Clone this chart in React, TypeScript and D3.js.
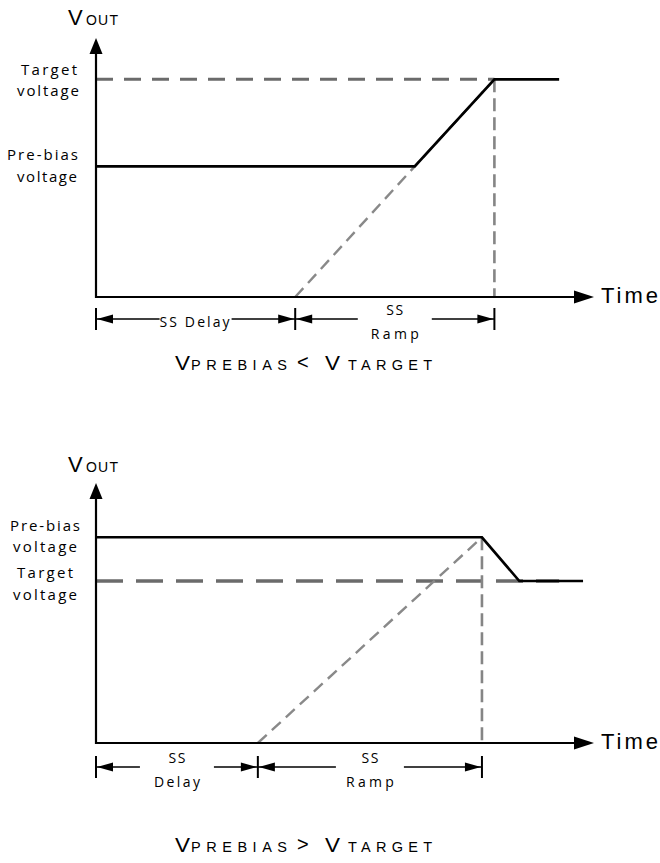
import React from "react";
import * as d3 from "d3";

const W = 660;
const H = 863;
const timeDomain = [0, 10];

// ---- Top panel: V_PREBIAS < V_TARGET ----
const topAxisTopV = 1.19;
const topPrebiasV = 0.6;
const topTargetV = 1.0;
const topOutT = [0, 6.4, 8, 9.3];
const topOutV = [0.6, 0.6, 1.0, 1.0];
const topRampT = [4, 8];
const topRampV = [0, 1.0];
const topTargetT = [0, 8];
const topMarkerT = 8;
const topSpanT = [0, 4, 8];
const topSpanLabels = [["SS Delay"], ["SS", "Ramp"]];
const topRelation = "<";

// ---- Bottom panel: V_PREBIAS > V_TARGET ----
const botAxisTopV = 1.605;
const botPrebiasV = 1.27;
const botTargetV = 1.0;
const botOutT = [0, 7.75, 8.5, 9.78];
const botOutV = [1.27, 1.27, 1.0, 1.0];
const botRampT = [3.25, 7.75];
const botRampV = [0, 1.27];
const botTargetT = [0, 9.3];
const botMarkerT = 7.75;
const botSpanT = [0, 3.25, 7.75];
const botSpanLabels = [["SS", "Delay"], ["SS", "Ramp"]];
const botRelation = ">";

const SANS = "'Liberation Sans', Arial, sans-serif";
const LABEL = "'Open Sans', 'Noto Sans', sans-serif";

const labelWidths: Record<string, number> = {
  "SS Delay": 70,
  SS: 17,
  Ramp: 48,
  Delay: 46,
};

type PanelProps = {
  axisY: number;
  tipY: number;
  axisTopV: number;
  prebiasV: number;
  targetV: number;
  outT: number[];
  outV: number[];
  rampT: number[];
  rampV: number[];
  targetT: number[];
  markerT: number;
  spanT: number[];
  spanLabels: string[][];
  spanGaps: number[];
  relation: string;
  voutY: number;
  titleY: number;
  dimOffset: number;
  yLabels: { text: string; v: number; dy: number; x: number; len: number }[];
  targetDash: string;
  targetWidth: number;
};

function Panel(p: PanelProps) {
  const x = d3.scaleLinear().domain(timeDomain).range([96, 594]);
  const y = d3.scaleLinear().domain([0, p.axisTopV]).range([p.axisY, p.tipY]);
  const line = d3
    .line<[number, number]>()
    .x((d) => x(d[0]))
    .y((d) => y(d[1]));
  const out = line(p.outT.map((t, i) => [t, p.outV[i]]) as [number, number][]);
  const ramp = line(p.rampT.map((t, i) => [t, p.rampV[i]]) as [number, number][]);
  const tgt = line(p.targetT.map((t) => [t, p.targetV]) as [number, number][]);
  const x0 = x(0);
  const xEnd = x(timeDomain[1]);
  const tip = y(p.axisTopV);
  const ax = 16;
  const xa = 20;
  const dimY = p.axisY + p.dimOffset;
  const arrowLen = 16;
  const ah = 4.5;

  const spans = [];
  for (let i = 0; i < p.spanT.length - 1; i++) {
    const a = x(p.spanT[i]);
    const b = x(p.spanT[i + 1]);
    const c = (a + b) / 2;
    const g = p.spanGaps[i];
    const labels = p.spanLabels[i];
    spans.push(
      <g key={i}>
        <line x1={a} x2={c - g} y1={dimY} y2={dimY} stroke="#000" strokeWidth={1.4} />
        <line x1={c + g} x2={b} y1={dimY} y2={dimY} stroke="#000" strokeWidth={1.4} />
        <path d={`M${a + 1},${dimY} L${a + 1 + arrowLen},${dimY - ah} L${a + 1 + arrowLen},${dimY + ah} Z`} fill="#000" />
        <path d={`M${b - 1},${dimY} L${b - 1 - arrowLen},${dimY - ah} L${b - 1 - arrowLen},${dimY + ah} Z`} fill="#000" />
        {labels.length === 1 ? (
          <text x={c - 1} y={dimY + 8} textAnchor="middle" fontFamily={LABEL} fontSize={14} textLength={labelWidths[labels[0]]} lengthAdjust="spacing">
            {labels[0]}
          </text>
        ) : (
          <>
            <text x={c} y={dimY - 4} textAnchor="middle" fontFamily={LABEL} fontSize={14} textLength={labelWidths[labels[0]]} lengthAdjust="spacing">
              {labels[0]}
            </text>
            <text x={c} y={dimY + 20} textAnchor="middle" fontFamily={LABEL} fontSize={14} textLength={labelWidths[labels[1]]} lengthAdjust="spacing">
              {labels[1]}
            </text>
          </>
        )}
      </g>
    );
  }
  const ticks = p.spanT.map((t, i) => (
    <line key={i} x1={x(t)} x2={x(t)} y1={dimY - 11} y2={dimY + 11} stroke="#000" strokeWidth={2} />
  ));

  return (
    <g>
      {/* target dashed */}
      <path d={tgt || ""} stroke="#6b6b6b" strokeWidth={p.targetWidth} strokeDasharray={p.targetDash} fill="none" />
      {/* soft-start reference ramp */}
      <path d={ramp || ""} stroke="#898989" strokeWidth={2.4} strokeDasharray="12,7" fill="none" />
      {/* vertical marker */}
      <line
        x1={x(p.markerT)}
        x2={x(p.markerT)}
        y1={y(p.outV[2] > p.outV[1] ? p.targetV : p.prebiasV)}
        y2={p.axisY}
        stroke="#858585"
        strokeWidth={2.6}
        strokeDasharray="13,6"
      />
      {/* axes */}
      <line x1={x0} x2={x0} y1={p.axisY + 1} y2={tip + ax} stroke="#000" strokeWidth={2.2} />
      <path d={`M${x0},${tip} L${x0 - 6.5},${tip + ax} L${x0 + 6.5},${tip + ax} Z`} fill="#000" />
      <line x1={x0 - 1} x2={xEnd - xa} y1={p.axisY} y2={p.axisY} stroke="#000" strokeWidth={2.2} />
      <path d={`M${xEnd},${p.axisY} L${xEnd - xa},${p.axisY - 6.5} L${xEnd - xa},${p.axisY + 6.5} Z`} fill="#000" />
      {/* output voltage */}
      <path d={out || ""} stroke="#000" strokeWidth={2.7} fill="none" strokeLinejoin="miter" />
      {/* dimension lines */}
      {ticks}
      {spans}
      {/* labels */}
      <text x={68} y={p.voutY} fontFamily={SANS} fontSize={22}>V</text>
      <text x={86} y={p.voutY} fontFamily={SANS} fontSize={14} textLength={32} lengthAdjust="spacing">OUT</text>
      <text x={601} y={p.axisY + 6} fontFamily={SANS} fontSize={22} textLength={57} lengthAdjust="spacing">Time</text>
      {p.yLabels.map((l, i) => (
        <text key={i} x={l.x} y={y(l.v) + l.dy} fontFamily={LABEL} fontSize={15} textLength={l.len} lengthAdjust="spacing">
          {l.text}
        </text>
      ))}
      {/* title */}
      <text x={175} y={p.titleY} fontFamily={SANS} fontSize={20} textLength={15} lengthAdjust="spacingAndGlyphs">V</text>
      <text x={191} y={p.titleY} fontFamily={SANS} fontSize={14.5} textLength={96} lengthAdjust="spacing">PREBIAS</text>
      <text x={297} y={p.titleY - 1} fontFamily={SANS} fontSize={20}>{p.relation}</text>
      <text x={325} y={p.titleY} fontFamily={SANS} fontSize={20} textLength={15} lengthAdjust="spacingAndGlyphs">V</text>
      <text x={348} y={p.titleY} fontFamily={SANS} fontSize={14.5} textLength={84} lengthAdjust="spacing">TARGET</text>
    </g>
  );
}

export default function App() {
  return (
    <svg width={W} height={H} viewBox={`0 0 ${W} ${H}`} style={{ position: "absolute", left: 0, top: 0, background: "#fff" }}>
      <rect width={W} height={H} fill="#fff" />
      <Panel
        axisY={297}
        tipY={38}
        axisTopV={topAxisTopV}
        prebiasV={topPrebiasV}
        targetV={topTargetV}
        outT={topOutT}
        outV={topOutV}
        rampT={topRampT}
        rampV={topRampV}
        targetT={topTargetT}
        markerT={topMarkerT}
        spanT={topSpanT}
        spanLabels={topSpanLabels}
        spanGaps={[36, 37]}
        relation={topRelation}
        voutY={25}
        titleY={370}
        dimOffset={22}
        targetDash="17,11"
        targetWidth={3}
        yLabels={[
          { text: "Target", v: topTargetV, dy: -4, x: 21, len: 56 },
          { text: "voltage", v: topTargetV, dy: 17, x: 17, len: 62 },
          { text: "Pre-bias", v: topPrebiasV, dy: -6, x: 7, len: 71 },
          { text: "voltage", v: topPrebiasV, dy: 16, x: 17, len: 60 },
        ]}
      />
      <Panel
        axisY={743}
        tipY={483}
        axisTopV={botAxisTopV}
        prebiasV={botPrebiasV}
        targetV={botTargetV}
        outT={botOutT}
        outV={botOutV}
        rampT={botRampT}
        rampV={botRampV}
        targetT={botTargetT}
        markerT={botMarkerT}
        spanT={botSpanT}
        spanLabels={botSpanLabels}
        spanGaps={[37, 34]}
        relation={botRelation}
        voutY={472}
        titleY={852}
        dimOffset={24}
        targetDash="27,13"
        targetWidth={3.3}
        yLabels={[
          { text: "Pre-bias", v: botPrebiasV, dy: -6, x: 10, len: 70 },
          { text: "voltage", v: botPrebiasV, dy: 15, x: 13, len: 64 },
          { text: "Target", v: botTargetV, dy: -3, x: 17, len: 56 },
          { text: "voltage", v: botTargetV, dy: 19, x: 13, len: 64 },
        ]}
      />
    </svg>
  );
}
